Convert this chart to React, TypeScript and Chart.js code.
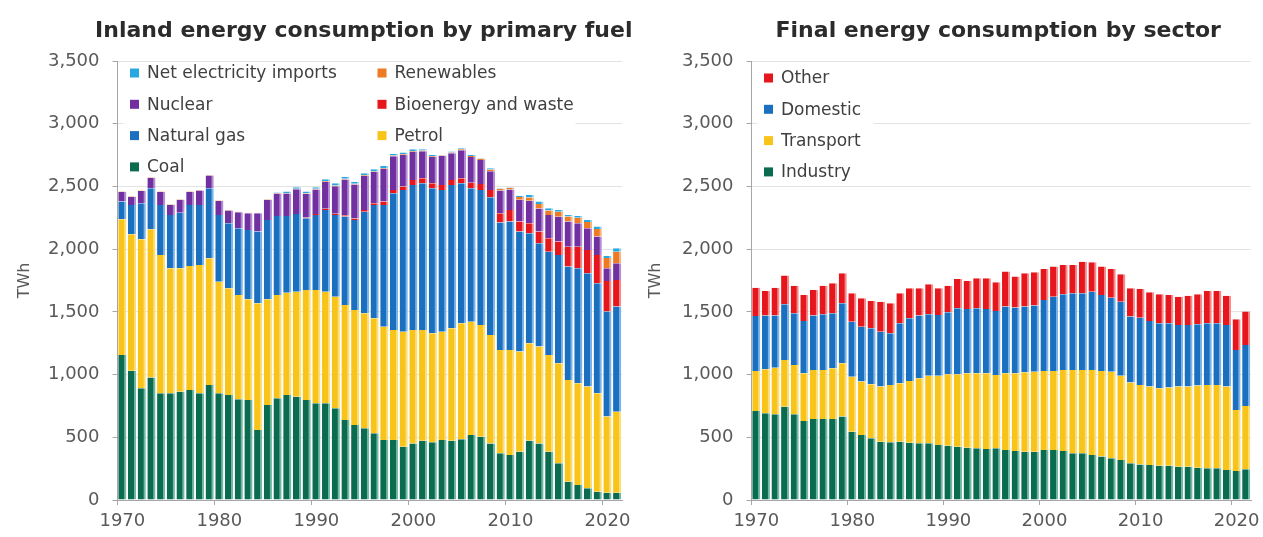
import React, { useEffect, useRef } from "react";
import { Chart, registerables } from "chart.js";

Chart.register(...registerables);

const FONT = "'DejaVu Sans', sans-serif";

const years = [
  "1970", "1971", "1972", "1973", "1974", "1975", "1976", "1977", "1978", "1979",
  "1980", "1981", "1982", "1983", "1984", "1985", "1986", "1987", "1988", "1989",
  "1990", "1991", "1992", "1993", "1994", "1995", "1996", "1997", "1998", "1999",
  "2000", "2001", "2002", "2003", "2004", "2005", "2006", "2007", "2008", "2009",
  "2010", "2011", "2012", "2013", "2014", "2015", "2016", "2017", "2018", "2019",
  "2020", "2021",
];

// Inland energy consumption by primary fuel (TWh)
const coal = [
  1156, 1031, 890, 976, 851, 851, 864, 877, 851, 917,
  851, 838, 803, 798, 558, 758, 811, 838, 824, 798,
  771, 771, 731, 638, 598, 572, 532, 478, 478, 425,
  451, 473, 460, 478, 473, 484, 518, 505, 451, 372,
  359, 385, 473, 451, 385, 292, 146, 120, 93, 66,
  58, 58,
];
const petrol = [
  1082, 1088, 1189, 1182, 1103, 996, 983, 989, 1023, 1010,
  890, 850, 832, 802, 1010, 842, 824, 815, 837, 877,
  904, 890, 890, 917, 917, 917, 917, 904, 878, 917,
  905, 883, 869, 864, 896, 925, 904, 891, 865, 824,
  837, 798, 776, 772, 771, 798, 811, 810, 811, 785,
  607, 646,
];
const naturalGas = [
  141, 233, 287, 327, 398, 426, 444, 486, 478, 558,
  532, 518, 531, 553, 572, 633, 630, 612, 620, 571,
  598, 652, 652, 705, 718, 810, 903, 970, 1090, 1130,
  1156, 1169, 1156, 1130, 1143, 1116, 1063, 1076, 1098, 1016,
  1024, 957, 878, 824, 824, 864, 904, 917, 904, 877,
  837, 838,
];
const bioenergy = [
  0, 0, 0, 0, 0, 0, 0, 0, 0, 0,
  0, 0, 0, 0, 0, 0, 0, 0, 0, 6,
  8, 9, 10, 11, 12, 13, 14, 27, 26, 27,
  40, 40, 40, 40, 40, 40, 45, 48, 58, 74,
  93, 80, 79, 93, 107, 106, 159, 173, 186, 226,
  245, 212,
];
const nuclear = [
  76, 66, 97, 84, 103, 80, 103, 103, 116, 103,
  110, 103, 129, 134, 147, 161, 178, 179, 197, 190,
  195, 214, 219, 285, 270, 271, 250, 262, 268, 251,
  224, 216, 212, 233, 212, 223, 204, 190, 150, 182,
  163, 174, 180, 185, 186, 198, 200, 186, 172, 146,
  100, 133,
];
const renewables = [
  4, 4, 4, 4, 4, 4, 4, 4, 4, 4,
  4, 4, 4, 4, 4, 4, 4, 4, 4, 4,
  6, 5, 6, 5, 6, 6, 4, 5, 6, 6,
  6, 5, 6, 4, 7, 8, 9, 10, 12, 14,
  14, 22, 26, 34, 35, 40, 40, 45, 50, 60,
  82, 93,
];
const netImports = [
  0, 0, 0, 0, 0, 0, 0, 0, 0, 0,
  0, 0, 0, 0, 0, 0, 4, 11, 12, 13,
  12, 16, 17, 17, 17, 16, 17, 17, 13, 14,
  14, 10, 8, 2, 7, 8, 8, 5, 11, 3,
  3, 10, 20, 20, 18, 15, 13, 14, 17, 20,
  17, 27,
];

// Final energy consumption by sector (TWh)
const industry = [
  710, 691, 683, 744, 683, 630, 646, 646, 646, 665,
  545, 518, 492, 465, 460, 465, 457, 452, 452, 439,
  433, 425, 417, 412, 407, 412, 399, 391, 385, 385,
  399, 399, 391, 372, 372, 359, 346, 332, 319, 292,
  284, 279, 274, 274, 266, 266, 258, 253, 253, 239,
  232, 245,
];
const transport = [
  319, 351, 372, 372, 393, 380, 391, 391, 404, 425,
  438, 426, 430, 439, 457, 465, 492, 518, 539, 552,
  569, 577, 593, 598, 603, 585, 611, 619, 633, 638,
  630, 630, 646, 665, 665, 678, 683, 691, 671, 645,
  633, 625, 616, 622, 638, 638, 654, 664, 664, 665,
  485, 505,
];
const domestic = [
  438, 428, 415, 444, 412, 417, 433, 444, 438, 478,
  439, 438, 447, 438, 412, 479, 500, 500, 490, 484,
  494, 526, 513, 518, 513, 510, 532, 524, 524, 527,
  566, 592, 603, 611, 611, 624, 606, 590, 591, 525,
  537, 523, 519, 513, 491, 491, 489, 492, 492, 491,
  479, 486,
];
const other = [
  226, 197, 223, 229, 221, 208, 205, 228, 240, 239,
  226, 226, 218, 239, 239, 239, 239, 218, 239, 213,
  213, 234, 223, 240, 245, 230, 279, 247, 265, 265,
  247, 240, 234, 226, 252, 234, 226, 229, 219, 226,
  229, 229, 231, 226, 226, 234, 239, 258, 258, 234,
  245, 266,
];

const yTicks = [0, 500, 1000, 1500, 2000, 2500, 3000, 3500];

const C = {
  green: ["#0b6b4f", "#6fb9a2"],
  yellow: ["#f8c41a", "#fddd78"],
  blue: ["#1b6fbf", "#78b4ea"],
  red: ["#e6171c", "#f48a8a"],
  purple: ["#7030a0", "#b48bd4"],
  orange: ["#ee7b24", "#f6b47e"],
  cyan: ["#28a8e0", "#8ed2f1"],
};

type Series = { label: string; data: number[]; col: string[] };

const leftSeries: Series[] = [
  { label: "Coal", data: coal, col: C.green },
  { label: "Petrol", data: petrol, col: C.yellow },
  { label: "Natural gas", data: naturalGas, col: C.blue },
  { label: "Bioenergy and waste", data: bioenergy, col: C.red },
  { label: "Nuclear", data: nuclear, col: C.purple },
  { label: "Renewables", data: renewables, col: C.orange },
  { label: "Net electricity imports", data: netImports, col: C.cyan },
];

const rightSeries: Series[] = [
  { label: "Industry", data: industry, col: C.green },
  { label: "Transport", data: transport, col: C.yellow },
  { label: "Domestic", data: domestic, col: C.blue },
  { label: "Other", data: other, col: C.red },
];

const gridLegend = {
  id: "gridLegend",
  beforeDatasetsDraw(chart: any, _a: any, o: any) {
    const { ctx, chartArea } = chart;
    ctx.save();
    ctx.fillStyle = "#ffffff";
    ctx.fillRect(chartArea.left + o.boxX, chartArea.top + o.boxY, o.boxW, o.boxH);
    ctx.restore();
  },
  afterDatasetsDraw(chart: any, _a: any, o: any) {
    const { ctx, chartArea } = chart;
    const ds = chart.data.datasets;
    const order = ds.map((_: any, i: number) => i).reverse();
    ctx.save();
    ctx.font = `${o.fontSize}px ${FONT}`;
    ctx.textBaseline = "middle";
    ctx.textAlign = "left";
    order.forEach((di: number, k: number) => {
      const row = Math.floor(k / o.cols);
      const colIdx = k % o.cols;
      const x = chartArea.left + o.x0 + colIdx * o.colW;
      const y = chartArea.top + o.y0 + row * o.rowH;
      ctx.fillStyle = ds[di].backgroundColor;
      ctx.fillRect(x, y - 4.5, 9, 9);
      ctx.fillStyle = "#404040";
      ctx.fillText(ds[di].label, x + 17, y + 1);
    });
    // chart title, centred over the plot (not squeezed to the plot width)
    ctx.font = `bold ${o.titleSize}px ${FONT}`;
    ctx.textAlign = "center";
    ctx.textBaseline = "middle";
    ctx.fillStyle = "#2b2b2b";
    ctx.fillText(o.title, (chartArea.left + chartArea.right) / 2 + o.titleDx, o.titleY);
    ctx.restore();
  },
};

type Props = {
  left: number;
  width: number;
  padRight: number;
  yWidth: number;
  title: string;
  series: Series[];
  legend: any;
};

function StackChart({ left, width, padRight, yWidth, title, series, legend }: Props) {
  const ref = useRef<HTMLCanvasElement>(null);
  useEffect(() => {
    const chart = new Chart(ref.current as HTMLCanvasElement, {
      type: "bar",
      data: {
        labels: years,
        datasets: series.map((s) => ({
          label: s.label,
          data: s.data,
          backgroundColor: s.col[0],
          borderColor: s.col[1],
          borderWidth: { top: 0, right: 2, bottom: 0, left: 0 },
          borderSkipped: false,
          barPercentage: 0.84,
          categoryPercentage: 1,
        })),
      },
      options: {
        animation: false,
        responsive: false,
        devicePixelRatio: 1,
        layout: { padding: { left: 0, right: padRight, top: 61, bottom: 0 } },
        plugins: {
          legend: { display: false },
          tooltip: { enabled: false },
          title: { display: false },
          gridLegend: { ...legend, title, titleSize: 22, titleY: 31 },
        } as any,
        scales: {
          x: {
            type: "category",
            stacked: true,
            offset: true,
            afterFit: (s: any) => {
              s.height = 37;
            },
            grid: {
              offset: true,
              drawOnChartArea: false,
              drawTicks: true,
              tickLength: 5,
              tickColor: (c: any) =>
                c.type === "tick" && c.index !== undefined && Number(years[c.index]) % 10 === 0
                  ? "#a6a6a6"
                  : "rgba(0,0,0,0)",
            },
            border: { display: true, color: "#a6a6a6" },
            ticks: {
              autoSkip: false,
              maxRotation: 0,
              minRotation: 0,
              padding: 6,
              color: "#595959",
              font: { family: FONT, size: 18 },
              callback: (_v: any, i: number) => (Number(years[i]) % 10 === 0 ? years[i] : ""),
            },
          },
          y: {
            stacked: true,
            min: yTicks[0],
            max: yTicks[yTicks.length - 1],
            afterFit: (s: any) => {
              s.width = yWidth;
            },
            afterBuildTicks: (s: any) => {
              s.ticks = yTicks.map((v) => ({ value: v }));
            },
            grid: {
              color: "#e3e3e3",
              drawTicks: true,
              tickLength: 5,
              tickColor: "#a6a6a6",
            },
            border: { display: true, color: "#a6a6a6" },
            title: {
              display: true,
              text: "TWh",
              color: "#595959",
              font: { family: FONT, size: 16 },
              padding: { top: 15, bottom: 0 },
            },
            ticks: {
              padding: 13,
              color: "#595959",
              font: { family: FONT, size: 18 },
              callback: (v: any) => Number(v).toLocaleString("en-US"),
            },
          },
        },
      },
      plugins: [gridLegend as any],
    });
    return () => chart.destroy();
  }, []);
  return (
    <div style={{ position: "absolute", left, top: 0, width, height: 537 }}>
      <canvas ref={ref} width={width} height={537} style={{ display: "block" }} />
    </div>
  );
}

export default function App() {
  return (
    <div style={{ position: "absolute", left: 0, top: 0, width: 1263, height: 537, background: "#ffffff" }}>
      <StackChart
        left={0}
        width={640}
        padRight={18}
        yWidth={117.5}
        title="Inland energy consumption by primary fuel"
        series={leftSeries}
        legend={{ cols: 2, colW: 247.5, x0: 12.5, y0: 12, rowH: 31.3, fontSize: 17, boxX: 6, boxY: 2, boxW: 452, boxH: 118, titleDx: -6 }}
      />
      <StackChart
        left={631}
        width={632}
        padRight={12}
        yWidth={120.5}
        title="Final energy consumption by sector"
        series={rightSeries}
        legend={{ cols: 1, colW: 0, x0: 12.5, y0: 17, rowH: 31.3, fontSize: 17, boxX: 6, boxY: 2, boxW: 116, boxH: 121, titleDx: -3 }}
      />
    </div>
  );
}
